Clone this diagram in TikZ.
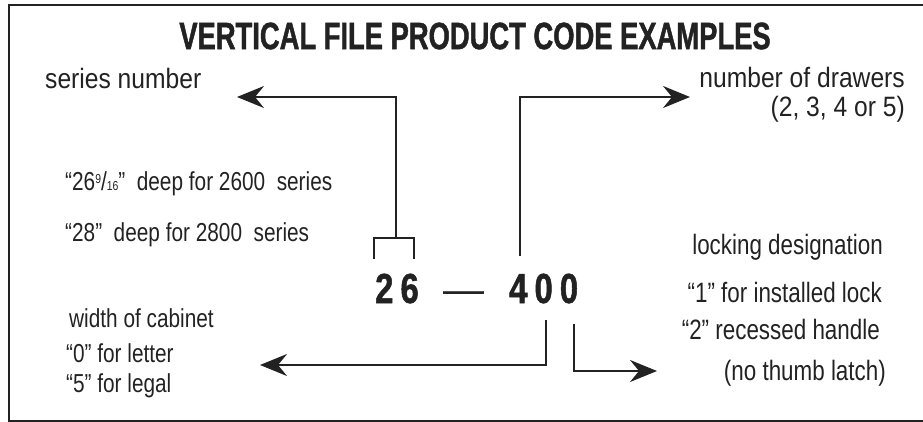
\documentclass[tikz,border=0pt]{standalone}
\usepackage{fontspec}
\setmainfont{Liberation Sans}[FakeStretch=0.8]
\newfontfamily\widefont{Liberation Sans}[FakeStretch=0.88]
\newfontfamily\codefont{Liberation Sans}[FakeStretch=0.78,LetterSpace=17,BoldFeatures={FakeBold=1.2}]
\newfontfamily\titlefont{Liberation Sans}[FakeStretch=0.72,BoldFeatures={FakeBold=1.2}]
\newfontfamily\dashfont{Liberation Sans}
\usetikzlibrary{arrows.meta}
\definecolor{ink}{HTML}{222222}
\begin{document}
\begin{tikzpicture}[x=1pt,y=-1pt,
  conn/.style={draw=ink,line width=1.8pt},
  arr/.style={conn,-{Stealth[length=27pt,width=22pt,inset=9pt]}},
  lbl/.style={inner sep=0pt,text=ink},
  small/.style={lbl,font=\fontsize{26}{30}\selectfont},
  big/.style={lbl,font=\widefont\fontsize{28}{32}\selectfont},
  mid/.style={lbl,font=\fontsize{28}{32}\selectfont},
  code/.style={inner sep=0pt,text=ink,font=\codefont\bfseries\fontsize{42}{46}\selectfont}]
\useasboundingbox (0,0) rectangle (923,422);
\draw[draw=ink,line width=2.2pt] (930,5) -- (9,5) -- (9,421) -- (930,421);
% title
\node[lbl,font=\titlefont\bfseries\fontsize{38}{42}\selectfont] (title) at (475,36) {VERTICAL FILE PRODUCT CODE EXAMPLES};
% left labels
\node[big,anchor=base west] (series) at (45,89) {series number};
\node[small,anchor=base west] (deep26) at (65,191) {“26{\fontsize{13}{13}\selectfont\raisebox{8pt}{9}}/{\fontsize{13}{13}\selectfont 16}”\ \ deep for 2600\ \ series};
\node[small,anchor=base west] (deep28) at (65,241) {“28”\ \ deep for 2800\ \ series};
\node[small,anchor=base west] (width) at (69,327) {width of cabinet};
\node[small,anchor=base west] (letter) at (66,362) {“0” for letter};
\node[small,anchor=base west] (legal) at (66,392) {“5” for legal};
% right labels
\node[big,anchor=base east] (drawers) at (905,88) {number of drawers};
\node[big,anchor=base east] (drawopt) at (905,117) {(2, 3, 4 or 5)};
\node[mid,anchor=base east] (locking) at (883,254) {locking\ designation};
\node[mid,anchor=base east] (lock1) at (882,302) {“1” for installed lock};
\node[mid,anchor=base east] (lock2) at (880,339) {“2” recessed handle};
\node[mid,anchor=base east] (thumb) at (886,380) {(no thumb latch)};
% code
\node[code,anchor=base west] (c26) at (375,303) {26};
\node[code,anchor=base west] (c400) at (509,303) {400};
\node[lbl,font=\dashfont\fontsize{41}{44}\selectfont,anchor=base west] (dash) at (443,303) {—};
% connectors
\coordinate (bl) at (374,259);
\coordinate (br) at (414,259);
\coordinate (bt) at (396,238);
\coordinate (sTip) at (237,97);
\draw[conn] (bl) -- (bl |- bt) -- (br |- bt) -- (br);
\draw[arr] (bt) -- (396,97) -- (sTip);
\coordinate (d0) at (520,256);
\coordinate (dTip) at (690,97);
\draw[arr] (d0) |- (dTip);
\coordinate (w0) at (546,320);
\coordinate (wTip) at (260,365);
\draw[arr] (w0) |- (wTip);
\coordinate (l0) at (574,324);
\coordinate (lTip) at (657,371);
\draw[arr] (l0) |- (lTip);
\end{tikzpicture}
\end{document}
